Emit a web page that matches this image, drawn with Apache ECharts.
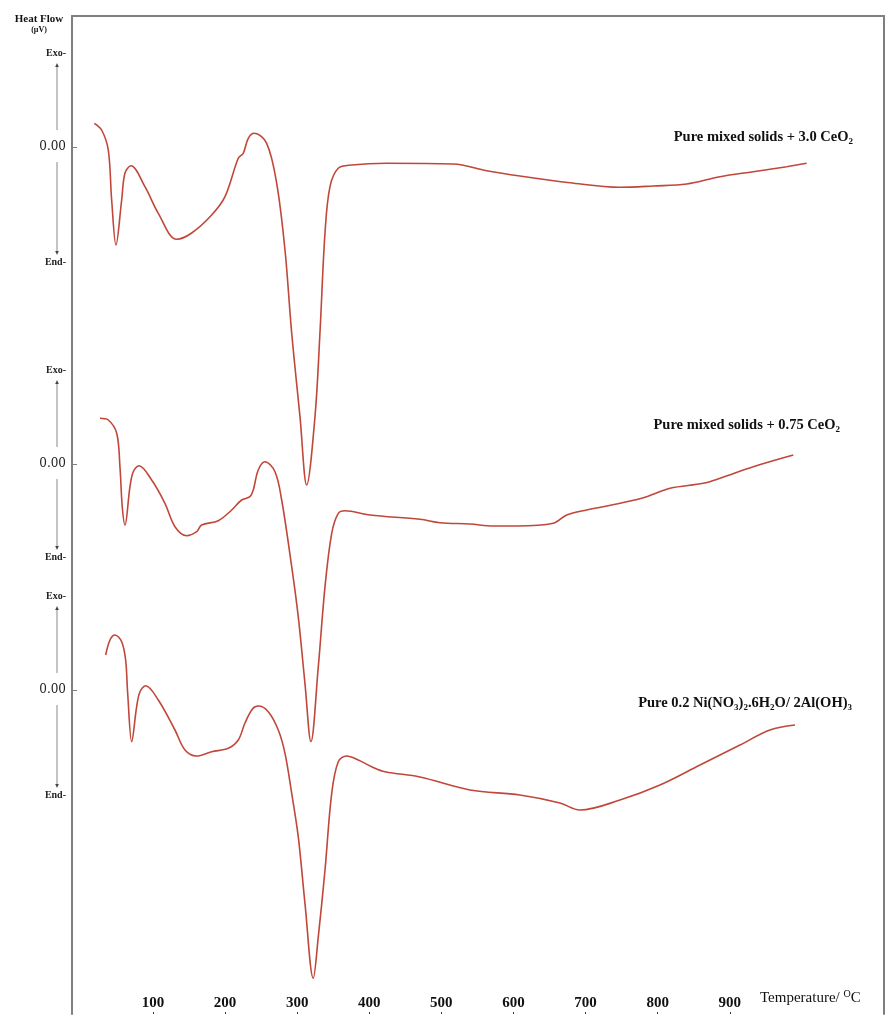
<!DOCTYPE html>
<html><head><meta charset="utf-8">
<script src="https://cdn.jsdelivr.net/npm/echarts@6/dist/echarts.min.js"></script>
<style>html,body{margin:0;padding:0;background:#fff}#c{width:885px;height:1015px}</style>
</head><body><div id="c"></div>
<script>
// ---- DATA (temperature in °C, heat flow relative to each curve's 0.00 line, arbitrary µV units) ----
const temp1 = [18.6,28.8,38.0,42.7,48.7,56.6,61.2,69.5,88.9,107.4,132.9,153.7,181.4,199.9,218.3,225.2,232.2,240.5,257.7,271.6,283.1,292.4,303.9,313.2,324.7,331.6,338.6,345.5,357.0,375.6,424.1,516.5,562.8,609.0,678.4,747.7,793.9,840.2,886.4,932.6,978.9,1006.7];
const flow1 = [23.7,17,-3,-53,-98,-53,-26,-18.7,-39.7,-66.3,-92.3,-86,-68,-49.7,-11.3,-6.3,8.7,13.7,3.7,-36.3,-103,-186,-269.7,-338,-269.7,-186,-86,-39.7,-21.3,-18,-16.3,-17,-23.7,-29,-35.7,-40.3,-39,-37,-29.7,-24.7,-19.7,-16.3];

const temp2 = [26.5,38.0,49.7,54.2,57.4,61.2,68.1,72.7,80.6,98.2,116.6,130.5,146.7,160.6,167.5,190.6,209.2,223.0,234.5,239.1,246.0,255.3,269.2,278.5,292.4,301.5,310.8,319.1,329.3,338.6,347.9,357.0,366.3,401.0,470.3,498.0,539.7,572.0,604.4,655.2,673.8,701.5,747.7,784.7,817.1,863.3,886.4,932.6,988.1];
const flow2 = [45.7,44,30.7,-2.7,-42.7,-61,-22.7,-7.7,-1.7,-16,-39.3,-62.7,-71.7,-67.7,-61,-56.7,-46,-36,-32.7,-26,-6,2.3,-7.7,-36,-102.7,-152.7,-219.3,-277.7,-202.7,-122.7,-69.3,-49.3,-46.7,-51,-55.3,-58.7,-60,-62,-62,-59.3,-51,-46,-39.3,-32.7,-24.3,-19.3,-14.3,-2.7,9];

const temp3 = [34.4,40.4,47.3,56.6,62.1,64.9,70.5,77.4,82.0,89.9,107.4,130.5,144.4,160.6,181.4,204.4,218.3,227.6,238.0,246.0,259.9,273.8,283.1,292.4,301.5,310.8,322.3,329.3,338.6,347.9,357.0,368.6,384.7,403.3,421.8,470.3,539.7,609.0,664.5,692.2,747.7,803.2,858.7,914.1,955.7,990.4];
const flow3 = [35,50,55,48.3,30,-3.3,-51.7,-16.7,-1.7,4.3,-10,-40,-60,-66,-61.7,-58.3,-50,-33,-19,-16,-21.7,-40,-63.3,-103.3,-146.7,-213.3,-288.3,-246.7,-180,-103.3,-71.7,-66,-70,-76.7,-81.7,-87,-100,-105,-113,-120,-110,-95,-75,-55,-40,-35];

const seriesNames = ['Pure mixed solids + 3.0 CeO2','Pure mixed solids + 0.75 CeO2','Pure 0.2 Ni(NO3)2.6H2O/ 2Al(OH)3'];
const xTickLabels = [100,200,300,400,500,600,700,800,900];
// vertical offset of each curve's 0.00 line, and Exo-/End- label offsets relative to it
const curveOffsets = [867, 550, 324];
const exoRel = [94, 94, 94];
const endRel = [-115, -93, -105];

// ---- CHART ----
const chart = echarts.init(document.getElementById('c'));
const COLOR = '#c0473a';
const AXC = '#7f7f7f';
const serif = '"Liberation Serif","Times New Roman",serif';

function mk(t, f, off) { return t.map((x, i) => [x, f[i] + off]); }

const yLabelVals = [], yLabelMap = {};
curveOffsets.forEach((o, i) => {
  yLabelVals.push(o + exoRel[i], o, o + endRel[i]);
  yLabelMap[o + exoRel[i]] = '{e|Exo-}';
  yLabelMap[o] = '{n|0.00}';
  yLabelMap[o + endRel[i]] = '{e|End-}';
});

const option = {
  animation: false,
  backgroundColor: '#fff',
  grid: { left: 72, right: 1, top: 16, bottom: 1 },
  xAxis: [{
    type: 'value', min: -12.3, max: 1113.9, position: 'bottom',
    axisLine: { show: false, onZero: false },
    splitLine: { show: false },
    axisTick: { show: true, inside: true, length: 2, customValues: xTickLabels, lineStyle: { color: '#333' } },
    axisLabel: { inside: true, margin: 3, customValues: xTickLabels, fontFamily: serif, fontWeight: 'bold', fontSize: 15, color: '#111' }
  }, {
    type: 'value', min: -12.3, max: 1113.9, position: 'top',
    axisLine: { show: true, onZero: false, lineStyle: { color: AXC, width: 2 } },
    axisTick: { show: false }, axisLabel: { show: false }, splitLine: { show: false }
  }],
  yAxis: [{
    type: 'value', min: 0, max: 998, position: 'left',
    axisLine: { show: true, onZero: false, lineStyle: { color: AXC, width: 2 } },
    splitLine: { show: false },
    axisTick: { show: true, inside: true, length: 5, customValues: curveOffsets, lineStyle: { color: AXC } },
    axisLabel: {
      customValues: yLabelVals, margin: 6,
      formatter: v => yLabelMap[v] || '',
      rich: {
        e: { fontFamily: serif, fontWeight: 'bold', fontSize: 10, color: '#222' },
        n: { fontFamily: '"DejaVu Serif",serif', fontSize: 12, color: '#222' }
      }
    }
  }, {
    type: 'value', min: 0, max: 998, position: 'right',
    axisLine: { show: true, onZero: false, lineStyle: { color: AXC, width: 2 } },
    axisTick: { show: false }, axisLabel: { show: false }, splitLine: { show: false }
  }],
  series: [
    { name: seriesNames[0], type: 'line', data: mk(temp1, flow1, curveOffsets[0]) },
    { name: seriesNames[1], type: 'line', data: mk(temp2, flow2, curveOffsets[1]) },
    { name: seriesNames[2], type: 'line', data: mk(temp3, flow3, curveOffsets[2]) }
  ].map(s => Object.assign(s, { smooth: 0.35, symbol: 'none', clip: false, lineStyle: { color: COLOR, width: 1.6 } }))
};
chart.setOption(option);

// decorations: arrows, titles, series labels
const g = [];
const ax = 57;
curveOffsets.forEach((o, i) => {
  const yb = chart.convertToPixel({ yAxisIndex: 0 }, o);
  const yExo = chart.convertToPixel({ yAxisIndex: 0 }, o + exoRel[i]);
  const yEnd = chart.convertToPixel({ yAxisIndex: 0 }, o + endRel[i]);
  const up1 = yb - 17, up2 = yExo + 13;
  const dn1 = yb + 15, dn2 = yEnd - 10;
  g.push({ type: 'line', shape: { x1: ax, y1: up1, x2: ax, y2: up2 }, style: { stroke: '#888', lineWidth: 1 } });
  g.push({ type: 'polygon', shape: { points: [[ax, up2 - 3], [ax - 1.8, up2 + 1], [ax + 1.8, up2 + 1]] }, style: { fill: '#444' } });
  g.push({ type: 'line', shape: { x1: ax, y1: dn1, x2: ax, y2: dn2 }, style: { stroke: '#888', lineWidth: 1 } });
  g.push({ type: 'polygon', shape: { points: [[ax, dn2 + 3], [ax - 1.8, dn2 - 1], [ax + 1.8, dn2 - 1]] }, style: { fill: '#444' } });
});
g.push({ type: 'text', x: 39, y: 13, style: {
  text: '{a|Heat Flow}\n{b|(µV)}', align: 'center', verticalAlign: 'top',
  rich: { a: { fontFamily: serif, fontWeight: 'bold', fontSize: 11, lineHeight: 12, fill: '#111', align: 'center' },
          b: { fontFamily: serif, fontWeight: 'bold', fontSize: 8, lineHeight: 9, fill: '#111', align: 'center' } } } });

const subRich = {
  m: { fontFamily: serif, fontWeight: 'bold', fontSize: 14.5, lineHeight: 18, fill: '#111' },
  s: { fontFamily: serif, fontWeight: 'bold', fontSize: 9, lineHeight: 10, verticalAlign: 'bottom', fill: '#111' }
};
const labelTexts = [
  '{m|Pure mixed solids + 3.0 CeO}{s|2}',
  '{m|Pure mixed solids + 0.75 CeO}{s|2}',
  '{m|Pure 0.2 Ni(NO}{s|3}{m|)}{s|2}{m|.6H}{s|2}{m|O/ 2Al(OH)}{s|3}'
];
const labelPos = [[853, 137], [840, 425], [852, 703]];
labelTexts.forEach((t, i) => {
  g.push({ type: 'text', x: labelPos[i][0], y: labelPos[i][1], style: { text: t, rich: subRich, align: 'right', verticalAlign: 'middle' } });
});
g.push({ type: 'text', x: 760, y: 998, style: {
  text: '{t|Temperature/ }{o|O}{t|C}', align: 'left', verticalAlign: 'middle',
  rich: { t: { fontFamily: serif, fontSize: 15, lineHeight: 18, fill: '#111' },
          o: { fontFamily: serif, fontSize: 10, lineHeight: 12, verticalAlign: 'top', fill: '#111' } } } });
chart.setOption({ graphic: g });
</script>
</body></html>
